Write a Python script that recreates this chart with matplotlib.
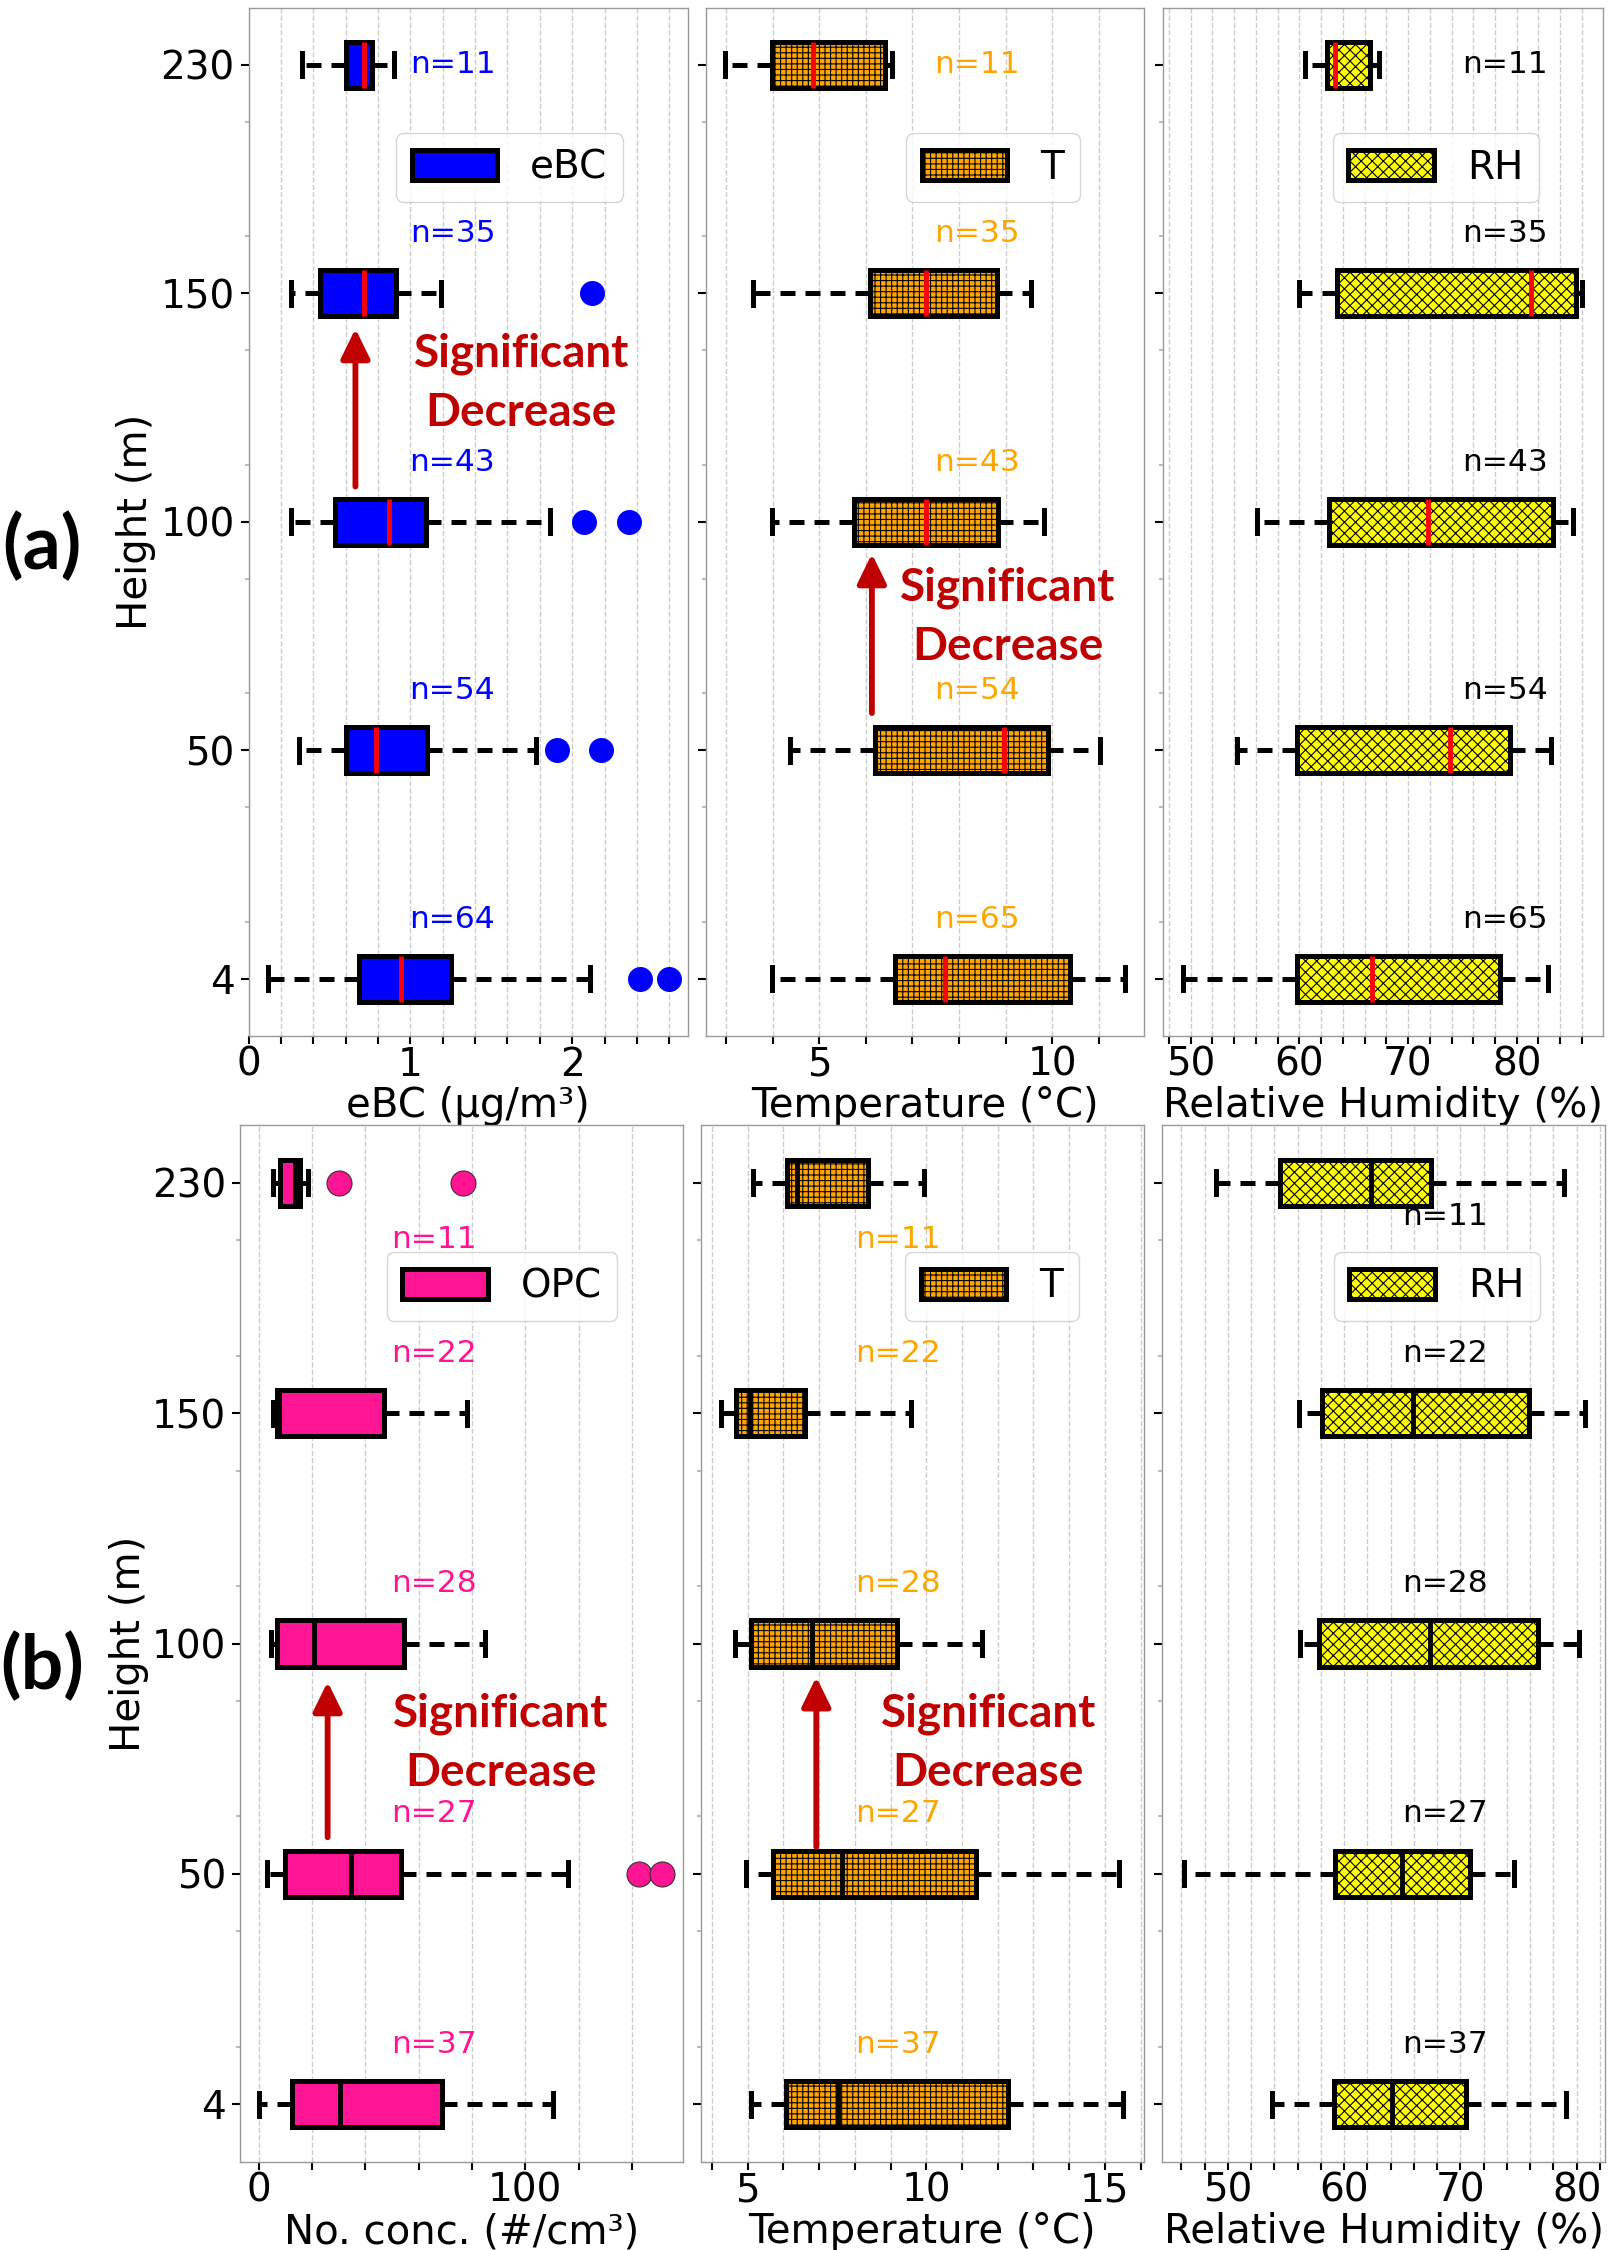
import numpy as np
import matplotlib.pyplot as plt
from matplotlib.ticker import MultipleLocator, FixedLocator

plt.rcParams['font.family'] = ['DejaVu Sans']
plt.rcParams['hatch.linewidth'] = 0.8

# heights (m) from bottom to top
heights = ['4', '50', '100', '150', '230']
pos = [1, 2, 3, 4, 5]

# ---- (a) eBC campaign ----
ebc_lo = [0.117, 0.314, 0.26, 0.26, 0.33]
ebc_q1 = [0.684, 0.603, 0.536, 0.44, 0.60]
ebc_med = [0.942, 0.788, 0.87, 0.715, 0.71]
ebc_q3 = [1.25, 1.10, 1.097, 0.91, 0.76]
ebc_hi = [2.11, 1.774, 1.865, 1.19, 0.90]
ebc_out = [[2.42, 2.597], [1.905, 2.177], [2.07, 2.35], [2.12], []]
ebc_n = [64, 54, 43, 35, 11]

ta_lo = [3.98, 4.38, 3.99, 3.58, 2.97]
ta_q1 = [6.63, 6.19, 5.75, 6.09, 3.98]
ta_med = [7.70, 8.97, 7.30, 7.30, 4.87]
ta_q3 = [10.38, 9.91, 8.84, 8.82, 6.42]
ta_hi = [11.57, 11.02, 9.82, 9.55, 6.57]
ta_n = [65, 54, 43, 35, 11]

rha_lo = [49.3, 54.3, 56.1, 60.0, 60.5]
rha_q1 = [59.8, 59.8, 62.7, 63.5, 62.5]
rha_med = [66.65, 73.9, 71.8, 81.3, 63.3]
rha_q3 = [78.45, 79.4, 83.36, 85.5, 66.5]
rha_hi = [82.9, 83.2, 85.2, 86.05, 67.35]
rha_n = [65, 54, 43, 35, 11]

# ---- (b) OPC campaign ----
opc_lo = [0.0, 3.1, 4.6, 5.3, 5.4]
opc_q1 = [12.4, 10.1, 6.9, 6.9, 8.1]
opc_med = [30.6, 34.5, 20.9, 7.6, 13.6]
opc_q3 = [68.6, 53.5, 54.5, 47.1, 15.5]
opc_hi = [110.5, 115.9, 84.7, 78.0, 18.6]
opc_out = [[], [142.7, 151.2], [], [], [30.2, 76.8]]
opc_n = [37, 27, 28, 22, 11]

tb_lo = [5.08, 4.95, 4.63, 4.25, 5.14]
tb_q1 = [6.08, 5.70, 5.10, 4.68, 6.09]
tb_med = [7.52, 7.64, 6.81, 5.07, 6.38]
tb_q3 = [12.3, 11.39, 9.19, 6.61, 8.37]
tb_hi = [15.52, 15.4, 11.56, 9.58, 9.94]
tb_n = [37, 27, 28, 22, 11]

rhb_lo = [53.8, 46.2, 56.2, 56.1, 48.95]
rhb_q1 = [59.1, 59.2, 57.8, 58.1, 54.5]
rhb_med = [64.1, 64.95, 67.4, 65.9, 62.35]
rhb_q3 = [70.5, 70.8, 76.7, 75.9, 67.5]
rhb_hi = [79.05, 74.6, 80.2, 80.75, 78.95]
rhb_n = [37, 27, 28, 22, 11]

none_out = [[], [], [], [], []]

fig = plt.figure(figsize=(16.2, 22.5), dpi=100)

def draw(ax, lo, q1, med, q3, hi, out, face, hatch, medcol, fedge='none'):
    st = [dict(whislo=a, q1=b, med=c, q3=d, whishi=e, fliers=f)
          for a, b, c, d, e, f in zip(lo, q1, med, q3, hi, out)]
    bp = ax.bxp(st, positions=pos, widths=0.2, capwidths=0.10,
                orientation='horizontal', patch_artist=True, manage_ticks=False,
                boxprops=dict(facecolor=face, edgecolor='k', linewidth=3.6, hatch=hatch),
                whiskerprops=dict(color='k', linewidth=3.6, linestyle=(0, (3, 2))),
                capprops=dict(color='k', linewidth=3.6),
                medianprops=dict(color=medcol, linewidth=3.5),
                flierprops=dict(marker='o', markerfacecolor=face, markeredgecolor=fedge,
                                markeredgewidth=0.8, markersize=18))
    return bp

def style(ax, xlim, major, minor, left):
    ax.set_ylim(0.75, 5.25)
    ax.set_xlim(*xlim)
    ax.set_yticks(pos)
    ax.set_yticklabels(heights if left else [])
    ax.yaxis.set_minor_locator(FixedLocator(np.arange(1.25, 5.0, 0.5)))
    ax.xaxis.set_major_locator(MultipleLocator(major))
    ax.xaxis.set_minor_locator(MultipleLocator(minor))
    ax.grid(axis='x', which='both', linestyle='--', color='#cccccc', linewidth=1)
    ax.set_axisbelow(True)
    ax.tick_params(axis='both', which='both', labelsize=28, length=6, width=1.5)
    ax.tick_params(axis='x', pad=1)
    ax.tick_params(axis='y', pad=4)
    ax.tick_params(axis='y', which='minor', length=3, color='#bbbbbb')
    for s in ax.spines.values():
        s.set_color('#999999')
        s.set_linewidth(1)

def nlabels(ax, ns, x, col, off_top):
    for p, n in zip(pos, ns):
        dy = off_top if p == 5 else 0.26
        ax.text(x, p + dy, 'n=%d' % n, color=col, fontsize=22.5, ha='center', va='center')

def leg(ax, bp, name):
    ax.legend([bp['boxes'][0]], [name], loc='upper right', bbox_to_anchor=(0.853, 0.878),
              borderaxespad=0, fontsize=28, handlelength=2.2, handleheight=0.82,
              handletextpad=0.85, borderpad=0.4)

def sig(ax, xa, ya, xt, yt):
    ax.annotate('', xy=(xa, ya[1]), xytext=(xa, ya[0]),
                arrowprops=dict(arrowstyle='-|>,head_length=0.45,head_width=0.22',
                                mutation_scale=40, color='#C00000', lw=4.2,
                                shrinkA=0, shrinkB=0))
    ax.text(xt, yt, 'Significant\nDecrease', color='#C00000', fontsize=33,
            fontweight='bold', family=['Lato', 'DejaVu Sans'],
            ha='center', va='center', linespacing=1.5)

# ---------- row (a) ----------
ax1 = fig.add_axes([0.1535, 0.5396, 0.2709, 0.457])
ax2 = fig.add_axes([0.4358, 0.5396, 0.2704, 0.457])
ax3 = fig.add_axes([0.7181, 0.5396, 0.2716, 0.457])

bp = draw(ax1, ebc_lo, ebc_q1, ebc_med, ebc_q3, ebc_hi, ebc_out, 'blue', None, 'red')
style(ax1, (0, 2.713), 1, 0.2, True)
nlabels(ax1, ebc_n, 1.26, 'blue', 0)
leg(ax1, bp, 'eBC')
sig(ax1, 0.66, (3.154, 3.845), 1.685, 3.606)
ax1.set_xlabel('eBC (µg/m³)', fontsize=29, labelpad=2)
ax1.set_ylabel('Height (m)', fontsize=29)
ax1.yaxis.set_label_coords(-0.211, 0.5)

bp = draw(ax2, ta_lo, ta_q1, ta_med, ta_q3, ta_hi, none_out, 'orange', '+++', 'red')
style(ax2, (2.57, 11.97), 5, 1, False)
nlabels(ax2, ta_n, 8.39, 'orange', 0)
leg(ax2, bp, 'T')
sig(ax2, 6.13, (2.163, 2.86), 9.04, 2.58)
ax2.set_xlabel('Temperature (°C)', fontsize=29, labelpad=2)

bp = draw(ax3, rha_lo, rha_q1, rha_med, rha_q3, rha_hi, none_out, 'yellow', 'xxx', 'red')
style(ax3, (47.48, 87.97), 10, 2, False)
nlabels(ax3, rha_n, 78.9, 'black', 0)
leg(ax3, bp, 'RH')
ax3.set_xlabel('Relative Humidity (%)', fontsize=29, labelpad=2)

# ---------- row (b) ----------
bx1 = fig.add_axes([0.1481, 0.0392, 0.2732, 0.4607])
bx2 = fig.add_axes([0.4327, 0.0392, 0.2733, 0.4607])
bx3 = fig.add_axes([0.7175, 0.0392, 0.2732, 0.4607])

bp = draw(bx1, opc_lo, opc_q1, opc_med, opc_q3, opc_hi, opc_out, 'deeppink', None, 'black', '#333333')
style(bx1, (-6.97, 158.9), 100, 20, True)
nlabels(bx1, opc_n, 65.8, 'deeppink', -0.248)
leg(bx1, bp, 'OPC')
sig(bx1, 25.9, (2.159, 2.834), 90.7, 2.568)
bx1.set_xlabel('No. conc. (#/cm³)', fontsize=29, labelpad=2)
bx1.set_ylabel('Height (m)', fontsize=29)
bx1.yaxis.set_label_coords(-0.205, 0.5)

bp = draw(bx2, tb_lo, tb_q1, tb_med, tb_q3, tb_hi, none_out, 'orange', '+++', 'black')
style(bx2, (3.69, 16.09), 5, 1, False)
nlabels(bx2, tb_n, 9.2, 'orange', -0.248)
leg(bx2, bp, 'T')
sig(bx2, 6.92, (2.117, 2.855), 11.74, 2.568)
bx2.set_xlabel('Temperature (°C)', fontsize=29, labelpad=2)

bp = draw(bx3, rhb_lo, rhb_q1, rhb_med, rhb_q3, rhb_hi, none_out, 'yellow', 'xxx', 'black')
style(bx3, (44.37, 82.43), 10, 2, False)
nlabels(bx3, rhb_n, 68.65, 'black', -0.146)
leg(bx3, bp, 'RH')
bx3.set_xlabel('Relative Humidity (%)', fontsize=29, labelpad=2)

fig.text(0.026, 1 - 547 / 2250, '(a)', fontsize=54, fontweight='bold',
         family=['Lato', 'DejaVu Sans'], ha='center', va='center')
fig.text(0.026, 1 - 1667 / 2250, '(b)', fontsize=54, fontweight='bold',
         family=['Lato', 'DejaVu Sans'], ha='center', va='center')

fig.savefig('out.png', dpi=100)
